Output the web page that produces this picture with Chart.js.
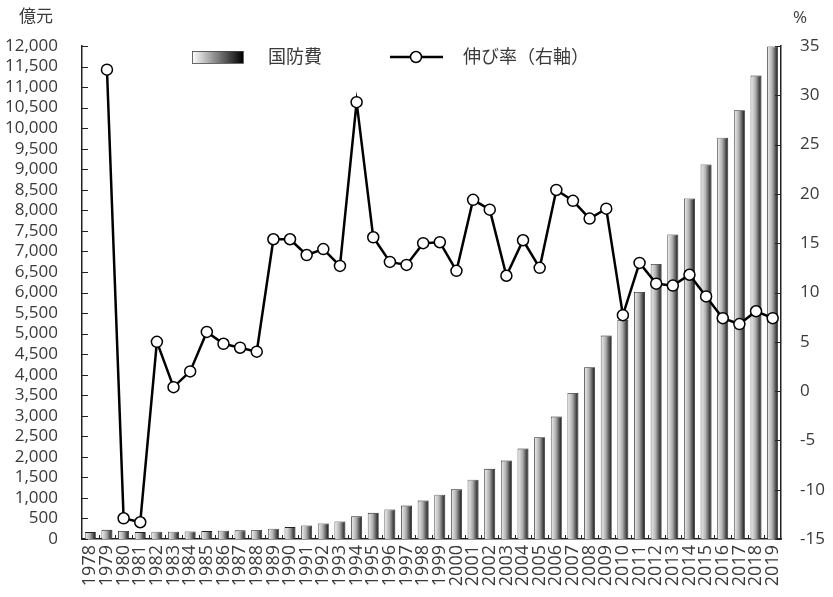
<!DOCTYPE html>
<html>
<head>
<meta charset="utf-8">
<script src="https://cdn.jsdelivr.net/npm/chart.js@4"></script>
<style>
  body { margin: 0; background: #fff; }
  #wrap { width: 833px; height: 597px; }
</style>
</head>
<body>
<div id="wrap"><canvas id="defenseChart"></canvas></div>
<script>
// Data
const years = ['1978', '1979', '1980', '1981', '1982', '1983', '1984', '1985', '1986', '1987',
  '1988', '1989', '1990', '1991', '1992', '1993', '1994', '1995', '1996', '1997',
  '1998', '1999', '2000', '2001', '2002', '2003', '2004', '2005', '2006', '2007',
  '2008', '2009', '2010', '2011', '2012', '2013', '2014', '2015', '2016', '2017',
  '2018', '2019'];

// 国防費 (億元)
const spending = [168, 223, 194, 168, 176, 177, 181, 192, 201, 210,
  218, 251, 290, 330, 378, 426, 551, 637, 720, 813,
  935, 1076, 1208, 1442, 1708, 1908, 2200, 2475, 2979, 3555,
  4179, 4951, 5333, 6012, 6692, 7411, 8290, 9115, 9766, 10435,
  11280, 11990];

// 伸び率 (%)
const growth = [null, 32.6, -12.9, -13.3, 5.0, 0.4, 2.0, 6.0, 4.8, 4.4,
  4.0, 15.4, 15.4, 13.8, 14.4, 12.7, 29.3, 15.6, 13.1, 12.8,
  15.0, 15.1, 12.2, 19.4, 18.4, 11.7, 15.3, 12.5, 20.4, 19.3,
  17.5, 18.5, 7.7, 13.0, 10.9, 10.7, 11.8, 9.6, 7.4, 6.8,
  8.1, 7.4];

const leftTicks = { min: 0, max: 12000, step: 500 };
const rightTicks = { min: -15, max: 35, step: 5 };

const FONT = "'Open Sans', 'Noto Sans CJK JP', sans-serif";
const CJK = "'Noto Sans CJK JP', sans-serif";
const TEXT = '#3a3a3a';
const BAR_PCT = 0.66;

// horizontal gradient for each bar
function barFill(c) {
  const chart = c.chart;
  const xs = chart.scales.x;
  if (!xs || c.type !== 'data') return '#999';
  const cx = xs.getPixelForValue(c.dataIndex);
  const w = xs.width / years.length * BAR_PCT;
  if (!isFinite(cx) || !isFinite(w) || w <= 0) return '#999';
  const g = chart.ctx.createLinearGradient(cx - w / 2, 0, cx + w / 2, 0);
  g.addColorStop(0, '#f2f2f2');
  g.addColorStop(0.45, '#b0b0b0');
  g.addColorStop(1, '#111');
  return g;
}

// inward tick marks, legend and axis titles
const decorations = {
  id: 'decorations',
  afterDraw(chart) {
    const c = chart.ctx;
    const area = chart.chartArea;
    const y = chart.scales.y;
    const y2 = chart.scales.y2;
    const x = chart.scales.x;

    c.save();
    c.strokeStyle = '#222';
    c.lineWidth = 1;
    c.beginPath();
    y.ticks.forEach(t => {
      const py = Math.round(y.getPixelForValue(t.value)) + 0.5;
      c.moveTo(area.left, py);
      c.lineTo(area.left + 6, py);
    });
    y2.ticks.forEach(t => {
      const py = Math.round(y2.getPixelForValue(t.value)) + 0.5;
      c.moveTo(area.right, py);
      c.lineTo(area.right - 6, py);
    });
    const step = x.width / years.length;
    for (let i = 1; i < years.length; i++) {
      const px = Math.round(area.left + step * i) + 0.5;
      c.moveTo(px, area.bottom);
      c.lineTo(px, area.bottom - 4);
    }
    c.stroke();

    // axis titles
    c.fillStyle = TEXT;
    c.font = '17px ' + CJK;
    c.textBaseline = 'middle';
    c.textAlign = 'center';
    c.fillText('億元', 36, 16);
    c.font = '17px ' + FONT;
    c.fillText('%', 800, 18);

    // legend: bars
    const lg = c.createLinearGradient(192, 0, 243, 0);
    lg.addColorStop(0, '#fff');
    lg.addColorStop(1, '#000');
    c.fillStyle = lg;
    c.fillRect(192, 51, 51, 12);
    c.strokeStyle = '#444';
    c.lineWidth = 0.8;
    c.strokeRect(192.5, 51.5, 51, 12);

    c.fillStyle = TEXT;
    c.font = '18px ' + CJK;
    c.textAlign = 'left';
    c.fillText(chart.data.datasets[0].label, 268, 56);

    // legend: line
    c.strokeStyle = '#000';
    c.lineWidth = 2.5;
    c.beginPath();
    c.moveTo(390, 57);
    c.lineTo(443, 57);
    c.stroke();
    c.beginPath();
    c.arc(416, 57, 5.5, 0, Math.PI * 2);
    c.fillStyle = '#fff';
    c.fill();
    c.lineWidth = 1.5;
    c.stroke();

    c.fillStyle = TEXT;
    c.fillText(chart.data.datasets[1].label, 463, 56);
    c.restore();
  }
};

const ctx = document.getElementById('defenseChart').getContext('2d');

const defenseChart = new Chart(ctx, {
  type: 'bar',
  data: {
    labels: years,
    datasets: [
      {
        type: 'bar',
        label: '国防費',
        data: spending,
        yAxisID: 'y',
        backgroundColor: barFill,
        borderColor: '#222',
        borderWidth: 0.8,
        barPercentage: BAR_PCT,
        categoryPercentage: 1,
        order: 2,
      },
      {
        type: 'line',
        label: '伸び率（右軸）',
        data: growth,
        yAxisID: 'y2',
        borderColor: '#000',
        borderWidth: 2.5,
        pointRadius: 5.5,
        pointBorderWidth: 1.5,
        pointBackgroundColor: '#fff',
        pointBorderColor: '#000',
        tension: 0,
        order: 1,
      },
    ],
  },
  options: {
    responsive: true,
    maintainAspectRatio: false,
    animation: false,
    locale: 'en-US',
    layout: { padding: { top: 46, left: 0, right: 0, bottom: 0 } },
    plugins: {
      legend: { display: false },
      tooltip: { enabled: false },
    },
    scales: {
      x: {
        grid: { display: false, drawTicks: false },
        border: { display: true, color: '#222', width: 1.5 },
        ticks: {
          color: TEXT,
          font: { family: FONT, size: 18 },
          autoSkip: false,
          minRotation: 90,
          maxRotation: 90,
          padding: 6,
        },
        afterFit: (s) => { s.height = 58; },
      },
      y: {
        position: 'left',
        min: leftTicks.min,
        max: leftTicks.max,
        grid: { display: false, drawTicks: false },
        border: { display: true, color: '#222', width: 1.5 },
        ticks: {
          stepSize: leftTicks.step,
          autoSkip: false,
          color: TEXT,
          font: { family: FONT, size: 17 },
          padding: 24,
        },
        afterFit: (s) => { s.width = 82; },
      },
      y2: {
        position: 'right',
        min: rightTicks.min,
        max: rightTicks.max,
        grid: { display: false, drawTicks: false },
        border: { display: true, color: '#222', width: 1.5 },
        ticks: {
          stepSize: rightTicks.step,
          autoSkip: false,
          color: TEXT,
          font: { family: FONT, size: 17 },
          padding: 19,
        },
        afterFit: (s) => { s.width = 52; },
      },
    },
  },
  plugins: [decorations],
});
// re-resolve bar gradients now that the scales are laid out
defenseChart.update();
</script>
</body>
</html>
